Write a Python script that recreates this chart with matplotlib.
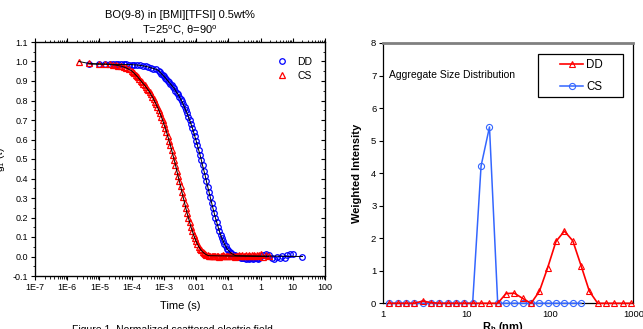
import matplotlib
matplotlib.use('Agg')
import matplotlib.pyplot as plt
from matplotlib.ticker import LogLocator, NullFormatter, NullLocator, MultipleLocator, FormatStrFormatter
from matplotlib.patches import Rectangle
from matplotlib.lines import Line2D

plt.rcParams['font.family'] = ['Liberation Sans', 'DejaVu Sans']
plt.rcParams['mathtext.fontset'] = 'custom'
plt.rcParams['mathtext.rm'] = 'Liberation Sans'
plt.rcParams['mathtext.it'] = 'Liberation Sans:italic'
plt.rcParams['mathtext.bf'] = 'Liberation Sans:bold'

# ---------------- left panel data: normalized correlation functions ----------------
# CS (red triangles)
t_cs_main = [2.3e-6, 4.7e-6, 9.7e-6, 1.5e-5, 2.1e-5, 2.7e-5, 3.3e-5, 3.9e-5, 4.7e-5, 5.6e-5, 6.8e-5, 8.2e-5,
             1.00e-4, 1.10e-4, 1.20e-4, 1.32e-4, 1.45e-4, 1.58e-4, 1.74e-4, 1.91e-4, 2.09e-4, 2.29e-4,
             2.51e-4, 2.75e-4, 3.02e-4, 3.31e-4, 3.63e-4, 3.98e-4, 4.37e-4, 4.79e-4, 5.25e-4, 5.75e-4,
             6.31e-4, 6.92e-4, 7.59e-4, 8.32e-4, 9.12e-4,
             1.00e-3, 1.10e-3, 1.20e-3, 1.32e-3, 1.45e-3, 1.58e-3, 1.74e-3, 1.91e-3, 2.09e-3, 2.29e-3,
             2.51e-3, 2.75e-3, 3.02e-3, 3.31e-3, 3.63e-3, 3.98e-3, 4.37e-3, 4.79e-3, 5.25e-3, 5.75e-3,
             6.31e-3, 6.92e-3, 7.59e-3, 8.32e-3, 9.12e-3,
             1.00e-2, 1.10e-2, 1.20e-2, 1.32e-2, 1.45e-2, 1.58e-2, 1.74e-2, 1.91e-2, 2.09e-2, 2.29e-2, 2.51e-2]
g_cs_main = [1.000, 0.990, 0.988, 0.987, 0.985, 0.983, 0.981, 0.979, 0.976, 0.972, 0.967, 0.960,
             0.952, 0.945, 0.939, 0.932, 0.925, 0.918, 0.910, 0.902, 0.894, 0.886,
             0.879, 0.870, 0.861, 0.852, 0.842, 0.831, 0.820, 0.807, 0.794, 0.781,
             0.766, 0.751, 0.734, 0.717, 0.699,
             0.680, 0.660, 0.639, 0.617, 0.594, 0.571, 0.546, 0.521, 0.495, 0.469,
             0.441, 0.414, 0.386, 0.359, 0.331, 0.303, 0.276, 0.249, 0.223, 0.199,
             0.175, 0.152, 0.131, 0.112, 0.094,
             0.078, 0.064, 0.051, 0.041, 0.031, 0.024, 0.018, 0.013, 0.009, 0.006, 0.004]
t_cs_tail = [2.75e-2, 3.02e-2, 3.31e-2, 3.63e-2, 3.98e-2, 4.37e-2, 4.79e-2, 5.25e-2, 5.75e-2, 6.31e-2,
             6.92e-2, 7.59e-2, 8.32e-2, 9.12e-2, 0.100, 0.110, 0.120, 0.132, 0.145, 0.158,
             0.174, 0.191, 0.209, 0.229, 0.251, 0.275, 0.302, 0.331, 0.363, 0.398,
             0.437, 0.479, 0.525, 0.575, 0.631, 0.692, 0.759, 0.832, 0.912, 1.00,
             1.20, 1.50, 1.80]
g_cs_tail = [0.003, 0.002, 0.004, 0.001, 0.003, 0.005, 0.002, 0.000, 0.004, 0.003,
             0.006, 0.001, 0.004, 0.002, 0.005, 0.003, 0.007, 0.002, 0.004, 0.000,
             0.005, 0.003, 0.008, 0.002, 0.004, 0.006, 0.001, 0.005, 0.009, 0.003,
             0.006, 0.002, 0.007, 0.004, 0.010, 0.001, 0.006, 0.003, 0.008, 0.012,
             -0.004, 0.009, 0.002]

# DD (blue circles)
t_dd_main = [4.7e-6, 9.7e-6, 1.5e-5, 2.1e-5, 2.7e-5, 3.3e-5, 3.9e-5, 4.7e-5, 5.6e-5, 6.8e-5, 8.2e-5,
             1.0e-4, 1.2e-4, 1.5e-4, 1.8e-4, 2.2e-4, 2.7e-4, 3.3e-4, 3.9e-4, 4.7e-4, 5.6e-4,
             6.92e-4, 7.59e-4, 8.32e-4, 9.12e-4,
             1.00e-3, 1.10e-3, 1.20e-3, 1.32e-3, 1.45e-3, 1.58e-3, 1.74e-3, 1.91e-3, 2.09e-3, 2.29e-3,
             2.51e-3, 2.75e-3, 3.02e-3, 3.31e-3, 3.63e-3, 3.98e-3, 4.37e-3, 4.79e-3, 5.25e-3, 5.75e-3,
             6.31e-3, 6.92e-3, 7.59e-3, 8.32e-3, 9.12e-3,
             1.00e-2, 1.10e-2, 1.20e-2, 1.32e-2, 1.45e-2, 1.58e-2, 1.74e-2, 1.91e-2, 2.09e-2, 2.29e-2,
             2.51e-2, 2.75e-2, 3.02e-2, 3.31e-2, 3.63e-2, 3.98e-2, 4.37e-2, 4.79e-2, 5.25e-2, 5.75e-2,
             6.31e-2, 6.92e-2, 7.59e-2, 8.32e-2, 9.12e-2,
             0.100, 0.110, 0.120, 0.132, 0.145, 0.158, 0.174]
g_dd_main = [0.987, 0.986, 0.986, 0.986, 0.985, 0.985, 0.985, 0.985, 0.985, 0.985, 0.984,
             0.984, 0.983, 0.982, 0.980, 0.978, 0.975, 0.972, 0.968, 0.964, 0.960,
             0.953, 0.946, 0.938, 0.931,
             0.925, 0.917, 0.909, 0.902, 0.893, 0.886, 0.878, 0.870, 0.862, 0.851,
             0.841, 0.831, 0.819, 0.807, 0.795, 0.780, 0.766, 0.750, 0.735, 0.717,
             0.698, 0.680, 0.661, 0.639, 0.616,
             0.594, 0.570, 0.546, 0.522, 0.495, 0.468, 0.441, 0.415, 0.386, 0.358,
             0.331, 0.304, 0.276, 0.249, 0.224, 0.198, 0.175, 0.153, 0.131, 0.111,
             0.094, 0.079, 0.064, 0.052, 0.040,
             0.032, 0.024, 0.017, 0.013, 0.010, 0.006, 0.004]
t_dd_tail = [0.191, 0.209, 0.229, 0.251, 0.275, 0.302, 0.331, 0.363, 0.398, 0.437,
             0.479, 0.525, 0.575, 0.631, 0.692, 0.759, 0.832, 0.912,
             1.0, 1.2, 1.5, 1.8, 2.2, 2.7, 3.3, 3.9, 4.7, 5.6, 6.8, 8.2, 10.0, 20.0]
g_dd_tail = [0.002, 0.000, -0.003, -0.006, -0.008, -0.010, -0.007, -0.012, -0.009, -0.011,
             -0.006, -0.010, -0.013, -0.008, -0.004, -0.009, -0.011, -0.006,
             0.003, 0.010, 0.012, 0.008, -0.006, -0.012, -0.004, -0.010, 0.005, -0.007, 0.008, 0.011, 0.012,
             0.000]

time_ticks = [1e-7, 1e-6, 1e-5, 1e-4, 1e-3, 1e-2, 1e-1, 1, 10, 100]
time_labels = ['1E-7', '1E-6', '1E-5', '1E-4', '1E-3', '0.01', '0.1', '1', '10', '100']

# ---------------- right panel data: size distribution ----------------
rh = [1.18, 1.49, 1.87, 2.36, 2.97, 3.74, 4.71, 5.93, 7.47, 9.40,
      11.8, 14.9, 18.8, 23.6, 29.7, 37.4, 47.1, 59.3, 74.7, 94.0,
      118, 149, 188, 236, 297, 374, 471, 593, 747, 940]
w_dd = [0, 0, 0, 0, 0.07, 0.02, 0, 0, 0, 0,
        0, 0, 0, 0, 0.30, 0.31, 0.15, 0, 0.37, 1.10,
        1.90, 2.22, 1.92, 1.16, 0.37, 0, 0, 0, 0, 0]
rh_cs = rh[:24]
w_cs = [0, 0, 0, 0, 0, 0, 0, 0, 0, 0,
        0, 4.22, 5.42, 0, 0, 0, 0, 0, 0, 0,
        0, 0, 0, 0]
rh_ticks = [1, 10, 100, 1000]

W, H = 643, 329
fig = plt.figure(figsize=(W / 100, H / 100), dpi=100)

# ======== left panel ========
ax1 = fig.add_axes([35 / W, 1 - 276 / H, 290 / W, 234 / H])
blue = '#0000ff'
red = '#ff0000'
ax1.plot(t_dd_main + t_dd_tail, g_dd_main + g_dd_tail, 'o', ms=4.0, mfc='none', mec=blue, mew=0.9,
         label='DD', zorder=3)
ax1.plot(t_cs_main + t_cs_tail, g_cs_main + g_cs_tail, '^', ms=4.3, mfc='none', mec=red, mew=0.9,
         label='CS', zorder=4)
ax1.plot(t_dd_main + [t_dd_tail[-1]], g_dd_main + [0.0], color='black', lw=0.7, zorder=5)
ax1.plot(t_cs_main + [t_cs_tail[-1]], g_cs_main + [0.0], color='black', lw=0.7, zorder=5)

ax1.set_xscale('log')
ax1.set_xlim(1e-7, 100)
ax1.set_ylim(-0.1, 1.1)
ax1.set_xticks(time_ticks)
ax1.set_xticklabels(time_labels)
ax1.xaxis.set_minor_locator(LogLocator(base=10, subs=[2, 3, 4, 5, 6, 7, 8, 9], numticks=30))
ax1.xaxis.set_minor_formatter(NullFormatter())
ax1.yaxis.set_major_locator(MultipleLocator(0.1))
ax1.yaxis.set_minor_locator(MultipleLocator(0.05))
ax1.yaxis.set_major_formatter(FormatStrFormatter('%.1f'))
ax1.tick_params(axis='x', which='both', direction='out', top=True, labelsize=6.5, pad=2)
ax1.tick_params(axis='x', which='major', length=3, width=0.8)
ax1.tick_params(axis='x', which='minor', length=1.8, width=0.6)
ax1.tick_params(axis='y', which='both', direction='out', right=False, labelsize=6.5, pad=2)
ax1.tick_params(axis='y', which='major', length=3, width=0.8)
ax1.tick_params(axis='y', which='minor', length=1.8, width=0.6)
for s in ax1.spines.values():
    s.set_linewidth(0.9)

ax1r = ax1.twinx()
ax1r.set_ylim(-0.1, 1.1)
ax1r.yaxis.set_major_locator(MultipleLocator(0.1))
ax1r.yaxis.set_minor_locator(MultipleLocator(0.05))
ax1r.tick_params(axis='y', which='both', direction='in', labelright=False)
ax1r.tick_params(axis='y', which='major', length=3, width=0.8)
ax1r.tick_params(axis='y', which='minor', length=1.8, width=0.6)
ax1r.set_zorder(ax1.get_zorder() - 1)
ax1.patch.set_visible(False)

ax1.set_xlabel('Time (s)', fontsize=8)
ax1.xaxis.set_label_coords(0.5, -0.105)
ax1.xaxis.label.set_va('top')
ax1.set_ylabel('g$_1$ (τ)', fontsize=7.5)
ax1.yaxis.set_label_coords(-0.095, 0.5)

leg1 = ax1.legend(loc='upper left', bbox_to_anchor=(0.833, 0.936), frameon=False, fontsize=7.5,
                  borderpad=0, borderaxespad=0, handlelength=1.0, handletextpad=1.0,
                  labelspacing=0.35)

fig.text(180 / W, 1 - 15 / H, 'BO(9-8) in [BMI][TFSI] 0.5wt%', ha='center', va='center', fontsize=8)
fig.text(180 / W, 1 - 30 / H, 'T=25$^\\mathrm{o}$C, θ=90$^\\mathrm{o}$', ha='center', va='center', fontsize=8)
fig.text(172 / W, 1 - 325 / H, 'Figure 1. Normalized scattered electric field', ha='center', va='top',
         fontsize=7.5)

# ======== right panel ========
ax2 = fig.add_axes([383.3 / W, 1 - 303.3 / H, 250 / W, 260.3 / H])
blue2 = '#3366ff'
ax2.plot(rh_cs, w_cs, '-', color=blue2, lw=1.1, marker='o', ms=4.4, mfc='none', mec=blue2, mew=0.8,
         label='CS', clip_on=False, zorder=3)
ax2.plot(rh, w_dd, '-', color=red, lw=1.2, marker='^', ms=5.0, mfc='none', mec=red, mew=0.8,
         label='DD', clip_on=False, zorder=4)
ax2.set_xscale('log')
ax2.set_xlim(1, 1000)
ax2.set_ylim(0, 8)
ax2.set_xticks(rh_ticks)
ax2.set_xticklabels([str(v) for v in rh_ticks])
ax2.xaxis.set_minor_locator(NullLocator())
ax2.yaxis.set_major_locator(MultipleLocator(1))
ax2.tick_params(axis='x', which='major', direction='out', length=0, labelsize=6.8, pad=5)
ax2.tick_params(axis='y', which='major', direction='out', length=3, width=0.8, labelsize=6.8, pad=2)
ax2.spines['top'].set_color('#808080')
ax2.spines['top'].set_linewidth(2.0)
ax2.spines['right'].set_linewidth(0.9)
ax2.spines['left'].set_linewidth(0.9)
ax2.spines['bottom'].set_linewidth(0.9)

ax2.set_xlabel('$\\mathbf{R_h}$ (nm)', fontsize=8, fontweight='bold')
ax2.xaxis.set_label_coords(0.477, -0.064)
ax2.xaxis.label.set_va('top')
ax2.set_ylabel('Weighted Intensity', fontsize=8, fontweight='bold')
ax2.yaxis.set_label_coords(-0.085, 0.5)

ax2.text(0.023, 0.877, 'Aggregate Size Distribution', transform=ax2.transAxes, ha='left', va='center',
         fontsize=7.5)

ax2.add_patch(Rectangle((0.619, 0.7925), 0.340, 0.1655, transform=ax2.transAxes, fill=False,
                        edgecolor='black', lw=0.9, clip_on=False, zorder=6))
h_dd = Line2D([], [], color=red, lw=1.2, marker='^', ms=5.0, mfc='none', mec=red, mew=0.8)
h_cs = Line2D([], [], color=blue2, lw=1.1, marker='o', ms=4.4, mfc='none', mec=blue2, mew=0.8)
ax2.legend([h_dd, h_cs], ['DD', 'CS'], loc='upper left', bbox_to_anchor=(0.707, 0.9385), frameon=False,
           fontsize=8.3, borderpad=0, borderaxespad=0, handlelength=2.0, handletextpad=0.25,
           labelspacing=0.83)

fig.savefig('out.png', dpi=100)
